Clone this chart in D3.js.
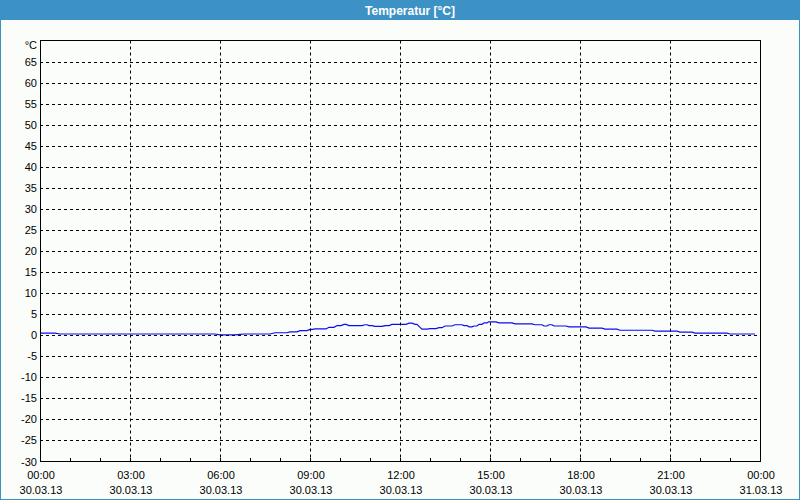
<!DOCTYPE html>
<html><head><meta charset="utf-8">
<script src="https://cdn.jsdelivr.net/npm/d3@7/dist/d3.min.js"></script>
<style>
html,body{margin:0;padding:0;background:#fbfdfb;}
svg{display:block;}
</style></head>
<body>
<script>
// ---- data ----
const title = "Temperatur [°C]";
const unitLabel = "°C";
const startDate = "2013-03-30T00:00";
const endDate = "2013-03-31T00:00";
// minutes after 30.03.13 00:00
const minutes = [0,30,40,350,360,390,400,410,460,470,494,500,514,520,534,540,546,550,572,578,588,594,602,608,612,618,644,650,654,658,664,670,684,690,698,704,732,738,744,750,754,758,764,774,780,792,798,804,810,824,830,844,848,854,858,864,868,874,878,884,888,894,898,912,918,944,950,984,990,1004,1008,1014,1018,1024,1028,1052,1058,1092,1098,1124,1130,1154,1160,1224,1230,1274,1280,1304,1310,1374,1380,1430];
const temps = [0.4,0.4,0.2,0.2,0.0,0.0,0.1,0.2,0.2,0.5,0.5,0.7,0.7,1.0,1.0,1.3,1.3,1.4,1.4,1.8,1.8,2.2,2.2,2.5,2.5,2.2,2.2,2.4,2.4,2.2,2.2,2.0,2.0,2.2,2.2,2.5,2.5,2.8,2.8,2.5,2.5,2.0,1.35,1.35,1.5,1.5,1.7,1.7,2.1,2.1,2.4,2.4,2.2,2.2,1.9,1.9,2.1,2.1,2.5,2.5,2.85,2.85,3.1,3.1,2.85,2.85,2.6,2.6,2.4,2.4,2.1,2.1,2.4,2.4,2.1,2.1,1.9,1.9,1.6,1.6,1.35,1.35,1.1,1.1,0.9,0.9,0.65,0.65,0.4,0.4,0.2,0.2];
const yTicks = [-30,-25,-20,-15,-10,-5,0,5,10,15,20,25,30,35,40,45,50,55,60,65];
const yDomain = [-30, 70];

// ---- layout ----
const W = 800, H = 500;
const plot = {left:40, right:760, top:40.5, bottom:461};
const svg = d3.select("body").append("svg").attr("width",W).attr("height",H);

svg.append("rect").attr("x",0).attr("y",0).attr("width",W).attr("height",H).attr("fill","#fbfdfb");
// window border
svg.append("rect").attr("x",0.5).attr("y",0.5).attr("width",W-1).attr("height",H-1)
  .attr("fill","none").attr("stroke","#3c92c5").attr("stroke-width",1);
// title bar
svg.append("rect").attr("x",0).attr("y",0).attr("width",W).attr("height",20).attr("fill","#3c92c5");
svg.append("text").attr("x",410).attr("y",15).attr("text-anchor","middle")
  .attr("font-family","Liberation Sans, Arial, sans-serif").attr("font-weight","bold")
  .attr("font-size","12px").attr("fill","#ffffff").text(title);

const parse = d3.isoParse;
const t0 = new Date(2013,2,30,0,0), t1 = new Date(2013,2,31,0,0);
const x = d3.scaleTime().domain([t0,t1]).range([plot.left, plot.right]);
const y = d3.scaleLinear().domain(yDomain).range([plot.bottom, plot.top]);

const data = minutes.map((m,i)=>({t:d3.timeMinute.offset(t0,m), v:temps[i]}));

// data line
svg.append("path").datum(data)
  .attr("fill","none").attr("stroke","#0c0cf0").attr("stroke-width",1.2)
  .attr("d", d3.line().x(d=>x(d.t)).y(d=>y(d.v)));

// grid (dashed)
const grid = svg.append("g").attr("stroke","#000").attr("stroke-width",1).attr("stroke-dasharray","3,3");
yTicks.filter(v=>v>yDomain[0]).forEach(v=>{
  const yy = Math.round(y(v))+0.5;
  grid.append("line").attr("x1",plot.left).attr("x2",plot.right).attr("y1",yy).attr("y2",yy);
});
const majorTimes = d3.timeHour.every(3).range(t0, d3.timeMinute.offset(t1,1));
majorTimes.forEach(t=>{
  const xx = Math.round(x(t))+0.5;
  if (t>t0 && t<t1) grid.append("line").attr("x1",xx).attr("x2",xx).attr("y1",plot.top).attr("y2",plot.bottom);
});

// frame
svg.append("rect").attr("x",plot.left+0.5).attr("y",Math.round(plot.top)-0.5)
  .attr("width",plot.right-plot.left).attr("height",plot.bottom-Math.round(plot.top)+1)
  .attr("fill","none").attr("stroke","#000").attr("stroke-width",1);

// minor ticks every hour on bottom axis (inward)
d3.timeHour.every(1).range(t0, t1).forEach(t=>{
  const xx = Math.round(x(t))+0.5;
  svg.append("line").attr("x1",xx).attr("x2",xx).attr("y1",plot.bottom-3).attr("y2",plot.bottom)
    .attr("stroke","#000");
});

const font = "Liberation Sans, Arial, sans-serif";
// y labels
const yl = svg.append("g").attr("font-family",font).attr("font-size","11px").attr("fill","#000").attr("text-anchor","end");
yTicks.forEach(v=>{
  yl.append("text").attr("x",37).attr("y",y(v)+4.5).text(String(v));
});
yl.append("text").attr("x",37).attr("y",49).text(unitLabel);

// x labels
const fmtT = d3.timeFormat("%H:%M"), fmtD = d3.timeFormat("%d.%m.%y");
const xl = svg.append("g").attr("font-family",font).attr("font-size","11px").attr("fill","#000").attr("text-anchor","middle");
majorTimes.forEach(t=>{
  xl.append("text").attr("x",x(t)+1).attr("y",479).text(fmtT(t));
  xl.append("text").attr("x",x(t)+1).attr("y",494).text(fmtD(t));
});
</script>
</body></html>
